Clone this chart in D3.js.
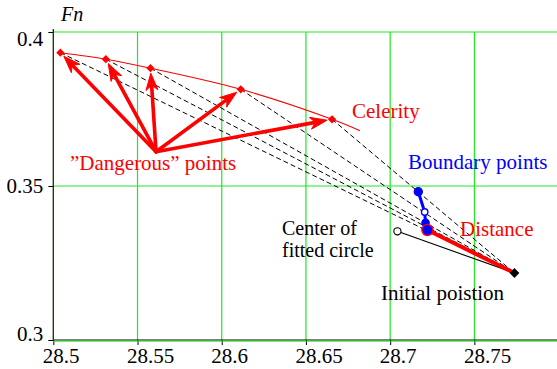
<!DOCTYPE html>
<html>
<head>
<meta charset="utf-8">
<script src="https://cdn.jsdelivr.net/npm/d3@7"></script>
<style>
  html, body { margin: 0; padding: 0; background: #fff; }
  svg { display: block; }
</style>
</head>
<body>
<svg id="chart" width="557" height="369"></svg>
<script>
// Froude-number / celerity plane data
const dangerX = [28.5042, 28.5312, 28.5577, 28.6113, 28.6655];
const dangerY = [0.39328, 0.39117, 0.38825, 0.38140, 0.37166];
// celerity curve runs through the dangerous points and on to this end
const celerityEndX = 28.6821;
const celerityEndY = 0.36795;
// common origin of the arrows
const arrowOriginX = 28.5610;
const arrowOriginY = 0.36114;
// boundary points along each dashed line
const boundaryX = [28.7167, 28.7205, 28.7210, 28.7221];
const boundaryY = [0.34812, 0.34156, 0.33809, 0.33571];
const boundaryFilled = [true, false, true, true];
// initial position and fitted circle centre
const initialX = 28.7738, initialY = 0.32175;
const centerX = 28.7043, centerY = 0.33529;

const xTicks = [28.5, 28.55, 28.6, 28.65, 28.7, 28.75];
const yTicks = [0.3, 0.35, 0.4];
const xGrid = [28.55, 28.6, 28.65, 28.7, 28.75];
const yGrid = [0.35, 0.4];

const FONT = '"Liberation Serif", "Times New Roman", Times, serif';

const svg = d3.select("#chart");
const x = d3.scaleLinear().domain([28.5, 28.8]).range([53.3, 558.6]);
const y = d3.scaleLinear().domain([0.3, 0.4]).range([340, 32]);

const GREEN = "#22e622", RED = "#ff0000", BLUE = "#0000ff";

// grid
svg.append("g").selectAll("line").data(xGrid).join("line")
  .attr("x1", d => x(d)).attr("x2", d => x(d))
  .attr("y1", y(0.4)).attr("y2", y(0.3))
  .attr("stroke", GREEN).attr("stroke-width", 1.2);
svg.append("g").selectAll("line").data(yGrid).join("line")
  .attr("x1", x(28.5)).attr("x2", 557)
  .attr("y1", d => y(d)).attr("y2", d => y(d))
  .attr("stroke", GREEN).attr("stroke-width", 1.2);

// axes
const xAxis = d3.axisBottom(x).tickValues(xTicks).tickSize(5).tickPadding(3)
  .tickFormat(d3.format(""));
const gx = svg.append("g").attr("transform", `translate(0,${y(0.3)})`).call(xAxis)
  .attr("font-family", FONT);
gx.select(".domain").remove();
gx.selectAll("text").attr("font-size", 21).attr("fill", "#000")
  .attr("text-anchor", "start").attr("x", -11);

const yAxis = d3.axisLeft(y).tickValues(yTicks).tickSize(5).tickPadding(5)
  .tickFormat(d3.format(""));
const gy = svg.append("g").attr("transform", `translate(${x(28.5)},0)`).call(yAxis)
  .attr("font-family", FONT);
gy.select(".domain").remove();
gy.selectAll("text").attr("font-size", 21).attr("fill", "#000")
  .attr("dy", d => d === 0.4 ? "0.63em" : d === 0.3 ? "0em" : "0.32em");

svg.append("line").attr("x1", x(28.5)).attr("x2", 557)
  .attr("y1", y(0.3)).attr("y2", y(0.3)).attr("stroke", "#000").attr("stroke-width", 1.2);
svg.append("line").attr("x1", x(28.5)).attr("x2", 557)
  .attr("y1", y(0.3) + 1.2).attr("y2", y(0.3) + 1.2).attr("stroke", GREEN).attr("stroke-width", 1);
svg.append("line").attr("x1", x(28.5)).attr("x2", x(28.5))
  .attr("y1", y(0.4) - 3).attr("y2", y(0.3)).attr("stroke", "#0a300a").attr("stroke-width", 1.3);

const danger = dangerX.map((v, i) => ({ x: v, y: dangerY[i] }));

// dashed rays from each dangerous point to the initial position
svg.append("g").selectAll("line").data(danger).join("line")
  .attr("x1", d => x(d.x)).attr("y1", d => y(d.y))
  .attr("x2", x(initialX)).attr("y2", y(initialY))
  .attr("stroke", "#000").attr("stroke-width", 1)
  .attr("stroke-dasharray", "5,3");

// celerity curve
const celerity = danger.concat([{ x: celerityEndX, y: celerityEndY }]);
svg.append("path").datum(celerity)
  .attr("d", d3.line().x(d => x(d.x)).y(d => y(d.y)).curve(d3.curveCatmullRom))
  .attr("fill", "none").attr("stroke", RED).attr("stroke-width", 1.1);

// arrows from the common origin
const ox = x(arrowOriginX), oy = y(arrowOriginY);
const arrows = svg.append("g");
danger.forEach(d => {
  const tx = x(d.x), ty = y(d.y);
  const dx = tx - ox, dy = ty - oy, len = Math.hypot(dx, dy);
  const ux = dx / len, uy = dy / len;
  const tipX = tx - ux * 5, tipY = ty - uy * 5;
  const headLen = 17, headW = 6, notch = 12;
  const nx = -uy, ny = ux;
  arrows.append("line")
    .attr("x1", ox).attr("y1", oy)
    .attr("x2", tipX - ux * notch).attr("y2", tipY - uy * notch)
    .attr("stroke", RED).attr("stroke-width", 3.6).attr("stroke-linecap", "round");
  const bx = tipX - ux * headLen, by = tipY - uy * headLen;
  const mx = tipX - ux * notch, my = tipY - uy * notch;
  arrows.append("path")
    .attr("d", `M${tipX},${tipY}L${bx + nx * headW},${by + ny * headW}L${mx},${my}L${bx - nx * headW},${by - ny * headW}Z`)
    .attr("fill", RED).attr("stroke", RED).attr("stroke-width", 1).attr("stroke-linejoin", "round");
});

// dangerous-point diamonds
svg.append("g").selectAll("path").data(danger).join("path")
  .attr("d", d3.symbol(d3.symbolSquare, 34)())
  .attr("transform", d => `translate(${x(d.x)},${y(d.y)}) rotate(45)`)
  .attr("fill", RED);

// fitted circle centre to initial position
svg.append("line")
  .attr("x1", x(centerX)).attr("y1", y(centerY))
  .attr("x2", x(initialX)).attr("y2", y(initialY))
  .attr("stroke", "#000").attr("stroke-width", 1.1);

// distance segment
const last = boundaryX.length - 1;
svg.append("line")
  .attr("x1", x(boundaryX[last])).attr("y1", y(boundaryY[last]))
  .attr("x2", x(initialX)).attr("y2", y(initialY))
  .attr("stroke", RED).attr("stroke-width", 4);

// boundary points
const boundary = boundaryX.map((v, i) => ({ x: v, y: boundaryY[i], f: boundaryFilled[i] }));
svg.append("path").datum(boundary)
  .attr("d", d3.line().x(d => x(d.x)).y(d => y(d.y)))
  .attr("fill", "none").attr("stroke", BLUE).attr("stroke-width", 3);
const radii = [4, 3.2, 3.6, 4.6];
svg.append("g").selectAll("circle").data(boundary).join("circle")
  .attr("cx", d => x(d.x)).attr("cy", d => y(d.y))
  .attr("r", (d, i) => radii[i])
  .attr("fill", d => d.f ? BLUE : "#fff")
  .attr("stroke", BLUE).attr("stroke-width", 1.4);
svg.append("circle")
  .attr("cx", x(boundaryX[last])).attr("cy", y(boundaryY[last])).attr("r", 5.6)
  .attr("fill", "none").attr("stroke", RED).attr("stroke-width", 1.3);

// fitted circle centre
svg.append("circle")
  .attr("cx", x(centerX)).attr("cy", y(centerY)).attr("r", 3.6)
  .attr("fill", "#fff").attr("stroke", "#000").attr("stroke-width", 1.1);

// initial position
svg.append("path")
  .attr("d", d3.symbol(d3.symbolSquare, 48)())
  .attr("transform", `translate(${x(initialX)},${y(initialY)}) rotate(45)`)
  .attr("fill", "#000");

// labels
const labels = [
  { t: "Fn", x: 61, y: 20.5, c: "#000", s: 20, it: true },
  { t: "Celerity", x: 352, y: 118, c: RED, s: 21 },
  { t: "\u201DDangerous\u201D points", x: 70, y: 170, c: RED, s: 21 },
  { t: "Boundary points", x: 408, y: 169, c: BLUE, s: 21 },
  { t: "Distance", x: 460, y: 236, c: RED, s: 21 },
  { t: "Center of", x: 282, y: 234.5, c: "#000", s: 20 },
  { t: "fitted circle", x: 282, y: 257, c: "#000", s: 20 },
  { t: "Initial poistion", x: 381, y: 300, c: "#000", s: 21 }
];
svg.append("g").selectAll("text").data(labels).join("text")
  .attr("x", d => d.x).attr("y", d => d.y)
  .attr("font-family", FONT)
  .attr("fill", d => d.c).attr("font-size", d => d.s)
  .attr("font-style", d => d.it ? "italic" : "normal")
  .text(d => d.t);
</script>
</body>
</html>
